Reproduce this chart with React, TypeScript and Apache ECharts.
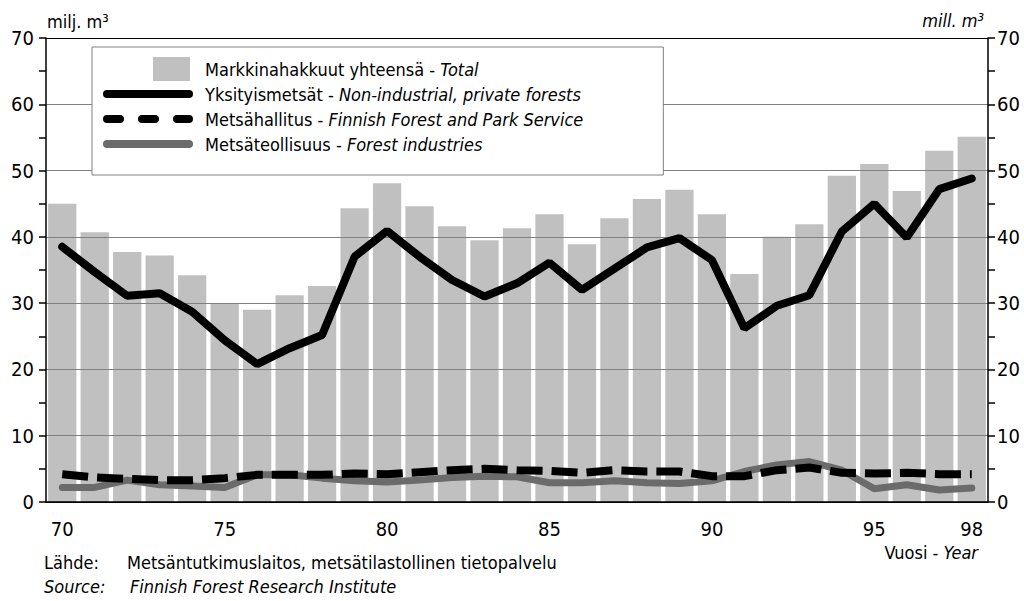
import React, { useEffect, useRef } from "react";
import * as echarts from "echarts";

const years = ["70","71","72","73","74","75","76","77","78","79","80","81","82","83","84","85","86","87","88","89","90","91","92","93","94","95","96","97","98"];
const totalValues = [45.0, 40.7, 37.7, 37.2, 34.2, 30.0, 29.0, 31.2, 32.6, 44.3, 48.1, 44.6, 41.6, 39.5, 41.3, 43.4, 38.9, 42.8, 45.7, 47.1, 43.4, 34.4, 40.0, 41.9, 49.2, 51.0, 46.9, 53.0, 55.1];
const privateValues = [38.5, 34.7, 31.1, 31.5, 28.7, 24.4, 20.8, 23.2, 25.2, 37.0, 40.9, 37.0, 33.5, 31.0, 33.0, 36.1, 32.0, 35.2, 38.4, 39.8, 36.5, 26.2, 29.6, 31.2, 40.8, 45.0, 39.9, 47.2, 48.8];
const stateValues = [4.2, 3.7, 3.5, 3.3, 3.3, 3.6, 4.1, 4.1, 4.1, 4.3, 4.2, 4.5, 4.8, 5.0, 4.8, 4.7, 4.4, 4.8, 4.6, 4.6, 3.9, 3.9, 4.8, 5.2, 4.4, 4.3, 4.4, 4.2, 4.2];
const industryValues = [2.2, 2.2, 3.3, 2.6, 2.4, 2.2, 4.1, 4.1, 3.6, 3.2, 3.0, 3.3, 3.7, 3.9, 3.8, 2.9, 2.9, 3.2, 2.9, 2.8, 3.2, 4.6, 5.6, 6.1, 4.8, 2.0, 2.6, 1.8, 2.1];

const seriesNames = [
  "Markkinahakkuut yhteensä - Total",
  "Yksityismetsät - Non-industrial, private forests",
  "Metsähallitus - Finnish Forest and Park Service",
  "Metsäteollisuus - Forest industries",
];

const FONT = "'Liberation Sans Narrow', 'Arial Narrow', 'DejaVu Sans Condensed', sans-serif";

// legend icons drawn in a 90 x 24 box
const BOX = "M0,0 M90,24 ";
const ICON_SQUARE = "path://" + BOX + "M50,0 H87 V24 H50 Z";
const ICON_SOLID = "path://" + BOX + "M4,8 H86 A4,4 0 0 1 86,16 H4 A4,4 0 0 1 4,8 Z";
const ICON_DASHED =
  "path://" + BOX +
  "M4,8 H17 A4,4 0 0 1 17,16 H4 A4,4 0 0 1 4,8 Z " +
  "M39,8 H52 A4,4 0 0 1 52,16 H39 A4,4 0 0 1 39,8 Z " +
  "M74,8 H86 A4,4 0 0 1 86,16 H74 A4,4 0 0 1 74,8 Z";

export default function App() {
  const ref = useRef<HTMLDivElement>(null);
  useEffect(() => {
    if (!ref.current) return;
    const chart = echarts.init(ref.current, null, { renderer: "svg" });
    const gridColors = ["#000", "#808080", "#808080", "#808080", "#808080", "#808080", "#808080", "#000"];
    const yCommon = {
      type: "value",
      min: 0,
      max: 70,
      interval: 10,
      axisLine: { show: true, lineStyle: { color: "#000", width: 1.5 } },
      axisTick: { show: true, length: 7, lineStyle: { color: "#000", width: 1.5 } },
      minorTick: { show: true, splitNumber: 2, length: 7, lineStyle: { color: "#000", width: 1.5 } },
      axisLabel: { color: "#000", fontSize: 20, fontFamily: FONT },
    };
    chart.setOption({
      animation: false,
      backgroundColor: "#fff",
      textStyle: { fontFamily: FONT },
      grid: { left: 46, right: 36, top: 38, bottom: 99, containLabel: false },
      legend: {
        orient: "vertical",
        left: 92,
        top: 47,
        z: 10,
        padding: [10, 80, 19, 11],
        itemWidth: 90,
        itemHeight: 24,
        itemGap: 1,
        backgroundColor: "#fff",
        borderColor: "#808080",
        borderWidth: 1,
        selectedMode: false,
        data: [
          { name: seriesNames[0], icon: ICON_SQUARE },
          { name: seriesNames[1], icon: ICON_SOLID },
          { name: seriesNames[2], icon: ICON_DASHED },
          { name: seriesNames[3], icon: ICON_SOLID },
        ],
        formatter: (name: string) => {
          const i = name.indexOf(" - ");
          return "{n|" + name.slice(0, i + 3) + "}{it|" + name.slice(i + 3) + "}";
        },
        textStyle: {
          color: "#000",
          fontSize: 18,
          fontFamily: FONT,
          padding: [0, 0, 0, 7],
          rich: {
            n: { fontSize: 18, fontFamily: FONT, color: "#000" },
            it: { fontSize: 18, fontFamily: FONT, fontStyle: "italic", color: "#000" },
          },
        },
      },
      xAxis: {
        type: "category",
        data: years,
        boundaryGap: true,
        axisLine: { lineStyle: { color: "#000", width: 1.5 } },
        axisTick: { alignWithLabel: true, interval: 0, length: 7, lineStyle: { color: "#000", width: 1.5 } },
        axisLabel: {
          interval: (index: number) => index % 5 === 0 || index === years.length - 1,
          color: "#000",
          fontSize: 20,
          fontFamily: FONT,
          margin: 17,
        },
        z: 3,
      },
      yAxis: [
        {
          ...yCommon,
          position: "left",
          z: 3,
          splitLine: { show: true, lineStyle: { color: gridColors, width: 1.2 } },
          axisLabel: { ...yCommon.axisLabel, margin: 12 },
        },
        {
          ...yCommon,
          position: "right",
          z: 3,
          splitLine: { show: false },
          axisLabel: { ...yCommon.axisLabel, margin: 9 },
        },
      ],
      series: [
        {
          name: seriesNames[0],
          type: "bar",
          data: totalValues,
          barCategoryGap: "13%",
          itemStyle: { color: "#c0c0c0" },
          z: 1,
        },
        {
          name: seriesNames[3],
          type: "line",
          data: industryValues,
          symbol: "none",
          lineStyle: { color: "#6b6b6b", width: 7, cap: "round" },
          itemStyle: { color: "#6b6b6b" },
          z: 5,
        },
        {
          name: seriesNames[2],
          type: "line",
          data: stateValues,
          symbol: "none",
          lineStyle: { color: "#000", width: 8, type: [26, 9], cap: "butt" },
          itemStyle: { color: "#000" },
          z: 6,
        },
        {
          name: seriesNames[1],
          type: "line",
          data: privateValues,
          symbol: "none",
          lineStyle: { color: "#000", width: 8, cap: "round" },
          itemStyle: { color: "#000" },
          z: 7,
        },
      ],
      graphic: [
        { type: "text", left: 47, top: 12, style: { text: "milj. m³", fontSize: 18, fontFamily: FONT, fill: "#000" } },
        { type: "text", right: 40, top: 11, style: { text: "mill. m³", fontSize: 18, fontFamily: FONT, fontStyle: "italic", fill: "#000" } },
        { type: "text", left: 44, top: 553, style: { text: "Lähde:", fontSize: 18, fontFamily: FONT, fill: "#000" } },
        { type: "text", left: 127, top: 553, style: { text: "Metsäntutkimuslaitos, metsätilastollinen tietopalvelu", fontSize: 18, fontFamily: FONT, fill: "#000" } },
        { type: "text", left: 44, top: 577, style: { text: "Source:", fontSize: 18, fontFamily: FONT, fontStyle: "italic", fill: "#000" } },
        { type: "text", left: 130, top: 577, style: { text: "Finnish Forest Research Institute", fontSize: 18, fontFamily: FONT, fontStyle: "italic", fill: "#000" } },
        {
          type: "text",
          right: 46,
          top: 543,
          style: {
            text: "{n|Vuosi - }{it|Year}",
            rich: {
              n: { fontSize: 18, fontFamily: FONT, fill: "#000" },
              it: { fontSize: 18, fontFamily: FONT, fontStyle: "italic", fill: "#000" },
            },
          },
        },
      ],
    });
    return () => chart.dispose();
  }, []);
  return <div ref={ref} style={{ width: 1024, height: 601, position: "absolute", left: 0, top: 0 }} />;
}
